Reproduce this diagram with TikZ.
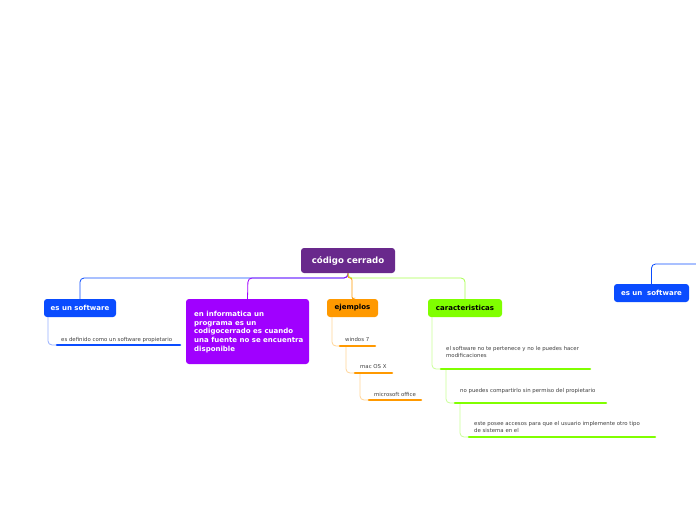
\documentclass[tikz,border=0pt]{standalone}
\usepackage{fontspec}
\setmainfont{DejaVu Sans}
\begin{document}
\begin{tikzpicture}[x=1pt,y=-1pt,
  box/.style={rounded corners=3pt, inner sep=0pt, font=\bfseries\fontsize{7}{8}\selectfont, text=white},
  small/.style={font=\fontsize{5.4}{6.8}\selectfont, text=black!75, inner sep=0pt, anchor=base west, align=left},
  conn/.style={line width=0.8pt, rounded corners=4pt},
  bar/.style={line width=2.6pt, line cap=round}]
\definecolor{rootc}{RGB}{105,41,140}
\definecolor{bluec}{RGB}{10,76,255}
\definecolor{purc}{RGB}{160,0,255}
\definecolor{orac}{RGB}{255,153,0}
\definecolor{grec}{RGB}{128,255,0}
\definecolor{bluel}{RGB}{150,175,255}
\definecolor{oral}{RGB}{255,212,150}
\definecolor{grel}{RGB}{200,255,150}
\useasboundingbox (0,0) rectangle (696,520);

% nodes
\node[box, fill=rootc, minimum width=94pt, minimum height=25pt, font=\bfseries\fontsize{8.6}{10}\selectfont] (root) at (348,260.5) {código cerrado};
\node[box, fill=bluec, minimum width=72pt, minimum height=18pt] (sw) at (80,308) {es un software};
\node[box, fill=purc, minimum width=123pt, minimum height=65pt] (pur) at (247.5,331.5) {};
\node[font=\bfseries\fontsize{7}{8.7}\selectfont, text=white, align=left, anchor=north west, inner sep=0pt] (purt) at (194,311) {en informatica un\\programa es un\\codigocerrado es cuando\\una fuente no se encuentra\\disponible};
\node[box, fill=orac, text=black, minimum width=51pt, minimum height=18pt] (ej) at (352.5,308) {ejemplos};
\node[box, fill=grec, text=black, minimum width=74pt, minimum height=18pt] (car) at (465,308) {caracteristicas};
\node[box, fill=bluec, minimum width=75pt, minimum height=18pt] (sw2) at (651.5,293) {es un\ \ software};

% root connectors
\coordinate (r0) at (348,273);
\draw[conn, bluec] (r0) |- (80,278) -- (sw.north);
\draw[conn, purc] (r0) |- (248,278) -- (pur.north);
\draw[conn, grec!70] (r0) |- (465,278) -- (car.north);
\draw[conn, orac, rounded corners=2pt] (r0) -- (348,278) -| (352,299) -- (ej.north);
\coordinate (offr) at (696,264);
\draw[conn, bluec] (sw2.north) |- (offr);

% es un software child
\coordinate (a1) at (48,317);
\coordinate (a2) at (57,345);
\coordinate (a3) at (180,345);
\draw[conn, bluel] (a1) |- (a2);
\draw[bar, bluec] (a2) -- (a3);
\node[small] (t1) at (61,341.5) {es definido como un software propietario};

% ejemplos children
\coordinate (e0) at (332,317);
\coordinate (e1) at (340,346);
\coordinate (e1b) at (375,346);
\coordinate (e1c) at (346,346);
\coordinate (e2) at (355,373);
\coordinate (e2b) at (392,373);
\coordinate (e2c) at (360,373);
\coordinate (e3) at (369,400);
\coordinate (e3b) at (421,400);
\draw[conn, oral] (e0) |- (e1);
\draw[conn, oral] (e1c) |- (e2);
\draw[conn, oral] (e2c) |- (e3);
\draw[bar, orac] (e1) -- (e1b);
\draw[bar, orac] (e2) -- (e2b);
\draw[bar, orac] (e3) -- (e3b);
\node[small] (w7) at (345,341) {windos 7};
\node[small] (mac) at (360,368) {mac OS X};
\node[small] (ms) at (374,396) {microsoft office};

% caracteristicas children
\coordinate (c0) at (432,317);
\coordinate (c1) at (441,369);
\coordinate (c1b) at (590,369);
\coordinate (c1c) at (446,369);
\coordinate (c2) at (455,403);
\coordinate (c2b) at (606,403);
\coordinate (c2c) at (460,403);
\coordinate (c3) at (469,437);
\coordinate (c3b) at (655,437);
\draw[conn, grel] (c0) |- (c1);
\draw[conn, grel] (c1c) |- (c2);
\draw[conn, grel] (c2c) |- (c3);
\draw[bar, grec] (c1) -- (c1b);
\draw[bar, grec] (c2) -- (c2b);
\draw[bar, grec] (c3) -- (c3b);
\node[small] (k1) at (446,357.5) {el software no te pertenece y no le puedes hacer\\modificaciones};
\node[small] (k2) at (460,392) {no puedes compartirlo sin permiso del propietario};
\node[small] (k3) at (474,432) {este posee accesos para que el usuario implemente otro tipo\\de sistema en el};
\end{tikzpicture}
\end{document}
